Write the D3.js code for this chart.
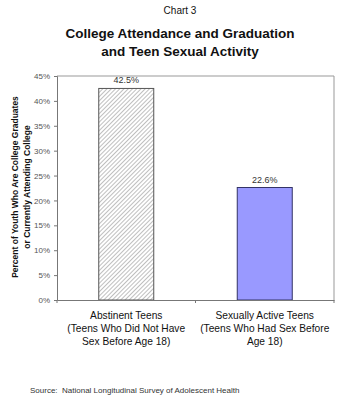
<!DOCTYPE html>
<html>
<head>
<meta charset="utf-8">
<script src="https://cdn.jsdelivr.net/npm/d3@7"></script>
<style>
  body { margin: 0; background: #fff; }
  svg { display: block; font-family: Arial, "Liberation Sans", sans-serif; }
</style>
</head>
<body>
<svg id="chart"></svg>
<script>
// College attendance by teen sexual activity

const categories = ["Abstinent Teens", "Sexually Active Teens"];
const catLines = [
    ["Abstinent Teens", "(Teens Who Did Not Have", "Sex Before Age 18)"],
    ["Sexually Active Teens", "(Teens Who Had Sex Before", "Age 18)"]
];
const values = [42.5, 22.6];
const yTicks = [0, 5, 10, 15, 20, 25, 30, 35, 40, 45];

const W = 350, H = 402;
const m = {left: 57, top: 76, right: 334, bottom: 300};

const svg = d3.select("#chart")
    .attr("width", W)
    .attr("height", H);

// hatch pattern for the first bar
const defs = svg.append("defs");
const pat = defs.append("pattern")
    .attr("id", "hatch")
    .attr("patternUnits", "userSpaceOnUse")
    .attr("width", 3)
    .attr("height", 3)
    .attr("patternTransform", "rotate(45)");
pat.append("rect").attr("width", 3).attr("height", 3).attr("fill", "#fff");
pat.append("line")
    .attr("x1", 0).attr("y1", 0).attr("x2", 0).attr("y2", 3)
    .attr("stroke", "#8a8a8a")
    .attr("stroke-width", 1.1);

let x = d3.scaleBand()
    .domain(categories)
    .range([m.left, m.right])
    .paddingInner(0)
    .paddingOuter(0);

let y = d3.scaleLinear()
    .domain([0, 45])
    .range([m.bottom, m.top]);

// titles
svg.append("text")
    .attr("x", 180).attr("y", 14)
    .attr("text-anchor", "middle")
    .attr("font-size", "10px")
    .attr("fill", "#111")
    .text("Chart 3");
svg.append("text")
    .attr("x", 180).attr("y", 38)
    .attr("text-anchor", "middle")
    .attr("font-size", "13.5px")
    .attr("font-weight", "bold")
    .attr("fill", "#111")
    .text("College Attendance and Graduation");
svg.append("text")
    .attr("x", 180).attr("y", 56)
    .attr("text-anchor", "middle")
    .attr("font-size", "13.5px")
    .attr("font-weight", "bold")
    .attr("fill", "#111")
    .text("and Teen Sexual Activity");

// plot border (top and right)
svg.append("path")
    .attr("d", `M${m.left},${m.top}H${m.right}V${m.bottom}`)
    .attr("fill", "none")
    .attr("stroke", "#999")
    .attr("stroke-width", 1);

// bars
const bw = 55;
svg.selectAll("rect.bar")
    .data(values)
    .enter()
    .append("rect")
    .attr("class", "bar")
    .attr("x", (d, i) => x(categories[i]) + x.bandwidth() / 2 - bw / 2)
    .attr("y", d => y(d))
    .attr("width", bw)
    .attr("height", d => y(0) - y(d))
    .attr("fill", (d, i) => i === 0 ? "url(#hatch)" : "#9999ff")
    .attr("stroke", (d, i) => i === 0 ? "#555" : "#333366")
    .attr("stroke-width", 1);

// value labels
svg.selectAll("text.val")
    .data(values)
    .enter()
    .append("text")
    .attr("class", "val")
    .attr("x", (d, i) => x(categories[i]) + x.bandwidth() / 2)
    .attr("y", d => y(d) - 5)
    .attr("text-anchor", "middle")
    .attr("font-size", "9px")
    .attr("fill", "#333")
    .text(d => d.toFixed(1) + "%");

// y axis
let yAxis = d3.axisLeft(y)
    .tickValues(yTicks)
    .tickSize(3)
    .tickPadding(4)
    .tickFormat(d => d + "%");
let gy = svg.append("g")
    .attr("transform", `translate(${m.left},0)`)
    .call(yAxis);
gy.select(".domain").attr("stroke", "#777");
gy.selectAll(".tick line").attr("stroke", "#777");
gy.selectAll(".tick text")
    .attr("font-size", "8px")
    .attr("fill", "#555")
    .attr("font-family", "Arial, 'Liberation Sans', sans-serif");

// x axis
let xAxis = d3.axisBottom(x)
    .tickValues([])
    .tickSizeOuter(0);
let gx = svg.append("g")
    .attr("transform", `translate(0,${m.bottom})`)
    .call(xAxis);
gx.select(".domain").attr("stroke", "#777");
// separators between categories
gx.selectAll("line.sep")
    .data([m.left, m.left + x.bandwidth(), m.right])
    .enter()
    .append("line")
    .attr("class", "sep")
    .attr("x1", d => d).attr("x2", d => d)
    .attr("y1", 0).attr("y2", 3)
    .attr("stroke", "#777");

// category labels
catLines.forEach((lines, i) => {
    let t = svg.append("text")
        .attr("text-anchor", "middle")
        .attr("font-size", "10.2px")
        .attr("fill", "#111");
    lines.forEach((ln, j) => {
        t.append("tspan")
            .attr("x", x(categories[i]) + x.bandwidth() / 2)
            .attr("y", 319 + j * 13)
            .text(ln);
    });
});

// y label
let yl = svg.append("text")
    .attr("transform", "translate(0,187) rotate(-90)")
    .attr("text-anchor", "middle")
    .attr("font-size", "8.5px")
    .attr("font-weight", "bold")
    .attr("fill", "#111");
yl.append("tspan").attr("x", 0).attr("y", 18).text("Percent of Youth Who Are College Graduates");
yl.append("tspan").attr("x", 0).attr("y", 30).text("or Currently Attending College");

// source
svg.append("text")
    .attr("x", 30).attr("y", 393)
    .attr("font-size", "8px")
    .attr("fill", "#333")
    .attr("xml:space", "preserve")
    .text("Source:  National Longitudinal Survey of Adolescent Health");
</script>
</body>
</html>
